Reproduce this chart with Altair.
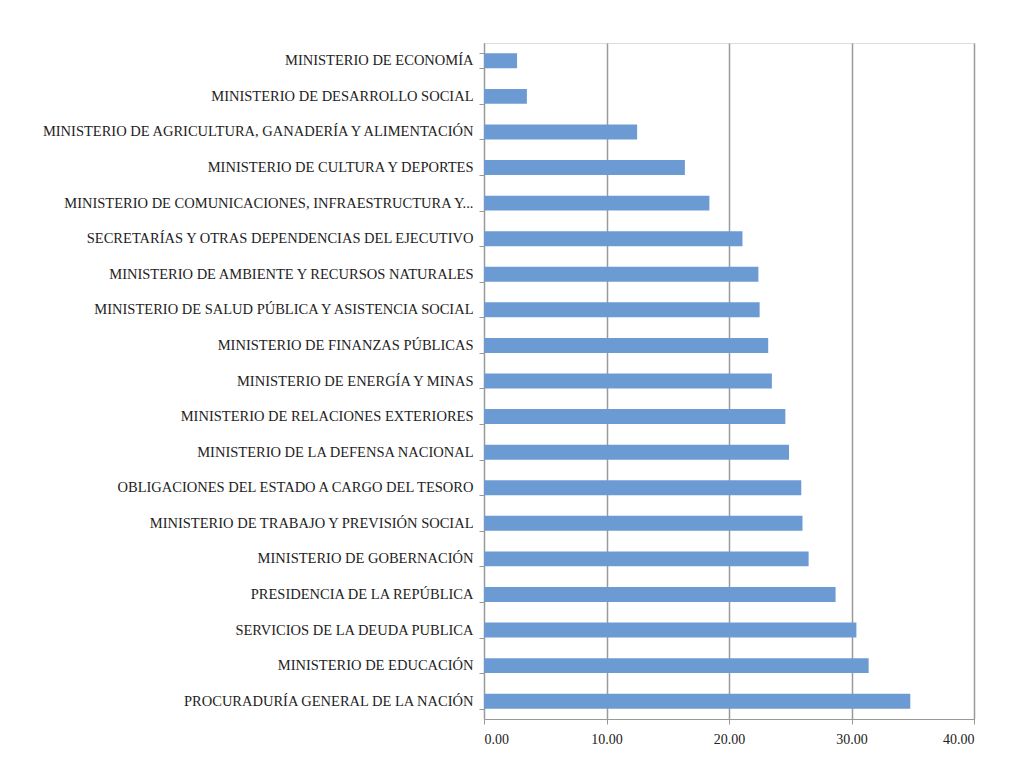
import altair as alt
import pandas as pd

categories = [
    "MINISTERIO DE ECONOMÍA",
    "MINISTERIO DE DESARROLLO SOCIAL",
    "MINISTERIO DE AGRICULTURA, GANADERÍA Y ALIMENTACIÓN",
    "MINISTERIO DE CULTURA Y DEPORTES",
    "MINISTERIO DE  COMUNICACIONES, INFRAESTRUCTURA Y...",
    "SECRETARÍAS Y OTRAS DEPENDENCIAS DEL EJECUTIVO",
    "MINISTERIO DE AMBIENTE Y RECURSOS NATURALES",
    "MINISTERIO DE SALUD PÚBLICA Y ASISTENCIA SOCIAL",
    "MINISTERIO DE FINANZAS PÚBLICAS",
    "MINISTERIO DE ENERGÍA Y MINAS",
    "MINISTERIO DE RELACIONES EXTERIORES",
    "MINISTERIO DE LA DEFENSA NACIONAL",
    "OBLIGACIONES DEL ESTADO A CARGO DEL TESORO",
    "MINISTERIO DE TRABAJO Y PREVISIÓN SOCIAL",
    "MINISTERIO DE GOBERNACIÓN",
    "PRESIDENCIA DE LA REPÚBLICA",
    "SERVICIOS DE LA DEUDA PUBLICA",
    "MINISTERIO DE EDUCACIÓN",
    "PROCURADURÍA GENERAL DE LA NACIÓN",
]
values = [2.7, 3.5, 12.5, 16.4, 18.4, 21.1, 22.4, 22.5, 23.2, 23.5,
          24.6, 24.9, 25.9, 26.0, 26.5, 28.7, 30.4, 31.4, 34.8]
x_ticks = [0, 10, 20, 30, 40]

df = pd.DataFrame({"cat": categories, "val": values})

chart = alt.Chart(df).mark_bar(color="#6B9BD2").encode(
    y=alt.Y("cat:N", sort=categories, title=None,
            scale=alt.Scale(paddingInner=0.58, paddingOuter=0.29),
            axis=alt.Axis(tickBand="extent", labelFont="Liberation Serif",
                          labelFontSize=14.5, labelColor="#222222",
                          labelLimit=600, labelPadding=6, tickSize=5,
                          domainColor="#999999", tickColor="#999999",
                          grid=False)),
    x=alt.X("val:Q", title=None,
            scale=alt.Scale(domain=[0, 40], nice=False),
            axis=alt.Axis(values=x_ticks, format=".2f",
                          labelFont="Liberation Serif", labelFontSize=14,
                          labelColor="#222222", labelPadding=8, tickSize=5,
                          domainColor="#999999", tickColor="#999999",
                          grid=True, gridColor="#9a9a9a", gridWidth=1.5)),
).properties(
    width=490, height=676,
    padding={"left": 30, "top": 27, "right": 30, "bottom": 10},
).configure_view(stroke=None).configure(background="white")

chart.save("out.html", embed_options={"renderer": "svg", "actions": False})
